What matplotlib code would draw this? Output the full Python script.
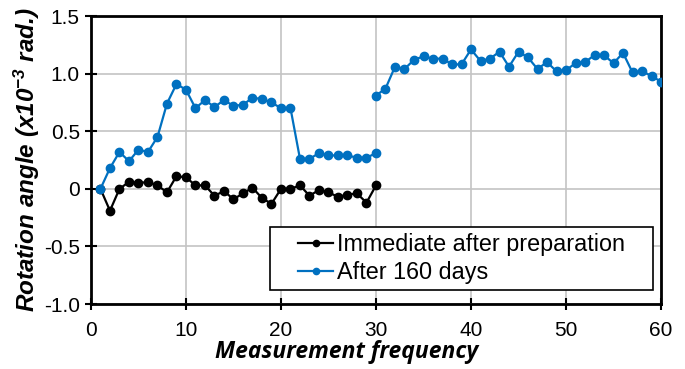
import numpy as np
import matplotlib
matplotlib.use("Agg")
import matplotlib.pyplot as plt
from matplotlib.patches import Rectangle

x_imm = list(range(1, 31))
imm = [0.0, -0.19, 0.0, 0.06, 0.05, 0.06, 0.03, -0.03, 0.11, 0.10,
       0.03, 0.03, -0.06, -0.02, -0.09, -0.04, 0.01, -0.08, -0.13, 0.0,
       0.0, 0.03, -0.06, -0.01, -0.03, -0.07, -0.05, -0.04, -0.12, 0.03]

x_a = list(range(1, 31))
after_a = [0.0, 0.18, 0.32, 0.24, 0.34, 0.32, 0.45, 0.74, 0.91, 0.86,
           0.70, 0.77, 0.71, 0.77, 0.72, 0.73, 0.79, 0.78, 0.75, 0.70,
           0.70, 0.26, 0.26, 0.31, 0.29, 0.29, 0.29, 0.27, 0.27, 0.31]
x_b = list(range(30, 61))
after_b = [0.81, 0.87, 1.06, 1.04, 1.12, 1.15, 1.13, 1.13, 1.08, 1.08,
           1.21, 1.11, 1.13, 1.19, 1.06, 1.19, 1.14, 1.04, 1.10, 1.02,
           1.03, 1.09, 1.10, 1.16, 1.16, 1.09, 1.18, 1.01, 1.02, 0.98, 0.93]

x_ticks = [0, 10, 20, 30, 40, 50, 60]
y_ticks = [-1.0, -0.5, 0, 0.5, 1.0, 1.5]
y_tick_labels = ["-1.0", "-0.5", "0", "0.5", "1.0", "1.5"]

plt.rcParams['mathtext.default'] = 'regular'

fig = plt.figure(figsize=(6.85, 3.69), dpi=100)
ax = fig.add_axes([0.1328, 0.176, 0.965 - 0.1328, 0.9566 - 0.176])

blue = "#0070C0"
after_x = x_a + [np.nan] + x_b
after_y = after_a + [np.nan] + after_b

ax.plot(x_imm, imm, color="black", lw=1.6, marker="o", ms=6.0,
        label="Immediate after preparation", zorder=3)
ax.plot(after_x, after_y, color=blue, lw=1.6, marker="o", ms=6.0,
        label="After 160 days", zorder=3)

ax.set_xlim(0, 60)
ax.set_ylim(-1.0, 1.5)
ax.set_xticks(x_ticks)
ax.set_yticks(y_ticks)
ax.set_yticklabels(y_tick_labels)
ax.grid(True, color="#c4c4c4", lw=1.2)
ax.set_axisbelow(True)
for s in ax.spines.values():
    s.set_linewidth(2.0)
    s.set_color("black")
ax.tick_params(axis="both", direction="inout", length=9, width=1.5,
               labelsize=15)
ax.tick_params(axis="x", pad=7.5)
ax.tick_params(axis="y", pad=3.5)
for lab in ax.get_xticklabels() + ax.get_yticklabels():
    lab.set_fontfamily("Liberation Sans")

ax.set_xlabel("Measurement frequency", fontsize=16.5, fontweight="bold",
              fontstyle="italic", family="Open Sans", labelpad=0.5, x=0.449)
ax.set_ylabel(r"Rotation angle (x10$^{-3}$ rad.)", fontsize=17.5,
              fontweight="bold", fontstyle="italic", family="Liberation Sans",
              labelpad=1)

# legend frame
ax.add_patch(Rectangle((0.314, 0.049), 0.672, 0.218, transform=ax.transAxes,
                       facecolor="white", edgecolor="black", lw=1.2, zorder=4))
leg = ax.legend(loc="center", bbox_to_anchor=(0.65, 0.158),
                prop={"family": "Liberation Sans", "size": 16.8},
                frameon=False, handlelength=1.5,
                handletextpad=0.15, labelspacing=0.2, borderpad=0,
                borderaxespad=0)
leg.set_zorder(5)
for h in leg.legend_handles:
    h.set_markersize(4.5)

fig.savefig("out.png", dpi=100)
